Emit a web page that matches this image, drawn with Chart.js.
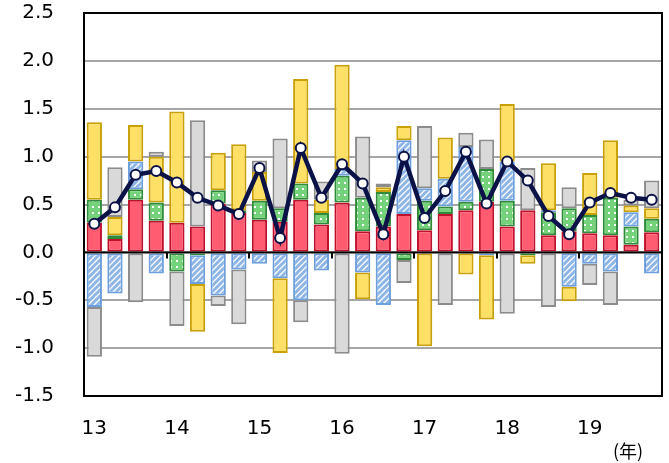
<!DOCTYPE html>
<html>
<head>
<meta charset="utf-8">
<script src="https://cdn.jsdelivr.net/npm/chart.js@4.4.1/dist/chart.umd.min.js"></script>
<style>
  html, body { margin: 0; padding: 0; background: #fff; }
</style>
</head>
<body>
<canvas id="myChart" width="669" height="463"></canvas>
<script>
// quarters 2013Q1 .. 2019Q4
const years = ['13', '14', '15', '16', '17', '18', '19'];
const quarters = ['Q1', 'Q2', 'Q3', 'Q4'];

const redVals    = [0.31, 0.14, 0.55, 0.33, 0.31, 0.27, 0.51, 0.41, 0.34, 0.32, 0.55, 0.29, 0.52, 0.22, 0.27, 0.40, 0.23, 0.40, 0.44, 0.53, 0.27, 0.44, 0.18, 0.22, 0.20, 0.18, 0.08, 0.21];
const greenVals  = [0.24, 0.04, 0.11, 0.19, -0.20, -0.03, 0.14, 0.03, 0.20, 0.14, 0.17, 0.12, 0.28, 0.35, 0.36, -0.08, 0.31, 0.08, 0.09, 0.34, 0.27, -0.03, 0.24, 0.24, 0.19, 0.39, 0.19, 0.14];
const blueVals   = [-0.57, -0.43, 0.29, -0.22, 0, -0.30, -0.45, -0.18, -0.12, -0.27, -0.50, -0.19, 0.07, -0.21, -0.55, 0.77, 0.13, 0.29, 0.57, -0.03, 0.41, 0, 0.02, -0.36, -0.12, -0.20, 0.15, -0.22];
const yellowVals = [0.81, 0.19, 0.38, 0.48, 1.16, -0.50, 0.39, 0.69, 0.30, -0.78, 1.09, 0.14, 1.09, -0.28, 0.05, 0.15, -0.98, 0.43, -0.23, -0.67, 0.60, -0.09, 0.49, -0.15, 0.44, 0.60, 0.07, 0.11];
const grayVals   = [-0.52, 0.52, -0.52, 0.05, -0.57, 1.11, -0.11, -0.57, 0.12, 0.73, -0.23, 0.19, -1.06, 0.64, 0.04, -0.24, 0.65, -0.55, 0.15, 0.31, -0.64, 0.44, -0.57, 0.22, -0.22, -0.35, 0.06, 0.29];
const totalVals  = [0.30, 0.47, 0.81, 0.85, 0.73, 0.57, 0.49, 0.40, 0.88, 0.15, 1.09, 0.57, 0.92, 0.72, 0.19, 1.00, 0.36, 0.64, 1.05, 0.51, 0.95, 0.75, 0.38, 0.19, 0.52, 0.62, 0.57, 0.55];

const yTicks = [-1.5, -1.0, -0.5, 0, 0.5, 1.0, 1.5, 2.0, 2.5];

const labels = [];
years.forEach(function(y) {
  quarters.forEach(function(q) { labels.push(y + q); });
});

var ctx = document.getElementById('myChart').getContext('2d');

// fill patterns
function dotPattern() {
  var c = document.createElement('canvas');
  c.width = 6; c.height = 6;
  var p = c.getContext('2d');
  p.fillStyle = '#74D27A';
  p.fillRect(0, 0, 6, 6);
  p.fillStyle = '#fff';
  p.fillRect(2, 2, 2, 2);
  return ctx.createPattern(c, 'repeat');
}

function stripePattern() {
  var c = document.createElement('canvas');
  c.width = 6; c.height = 6;
  var p = c.getContext('2d');
  p.fillStyle = '#fff';
  p.fillRect(0, 0, 6, 6);
  p.strokeStyle = '#8DB5E6';
  p.lineWidth = 3;
  p.beginPath();
  p.moveTo(-1, 7); p.lineTo(7, -1);
  p.moveTo(-4, 4); p.lineTo(4, -4);
  p.moveTo(2, 10); p.lineTo(10, 2);
  p.stroke();
  return ctx.createPattern(c, 'repeat');
}

var framePlugin = {
  id: 'frame',
  afterDatasetsDraw: function(chart) {
    var a = chart.chartArea;
    var c = chart.ctx;
    var xs = chart.scales.x;
    var y0 = chart.scales.y.getPixelForValue(0);
    c.save();
    c.strokeStyle = '#000';
    c.lineWidth = 2;
    // zero line
    c.beginPath();
    c.moveTo(a.left, y0); c.lineTo(a.right, y0);
    c.stroke();
    // year tick marks
    for (var i = 4; i < labels.length; i += 4) {
      var x = Math.round((xs.getPixelForValue(i - 1) + xs.getPixelForValue(i)) / 2);
      c.beginPath();
      c.moveTo(x, y0); c.lineTo(x, y0 + 6);
      c.stroke();
    }
    // plot frame
    c.strokeRect(a.left, a.top, a.right - a.left, a.bottom - a.top);
    // unit label
    c.fillStyle = '#000';
    c.font = '18px "Noto Sans CJK JP"';
    c.textAlign = 'center';
    c.textBaseline = 'middle';
    c.fillText('(年)', 628, 451);
    c.restore();
  }
};

function barSet(data, bg, border) {
  return {
    type: 'bar',
    data: data,
    backgroundColor: bg,
    borderColor: border,
    borderWidth: 2,
    borderSkipped: false,
    stack: 'parts',
    order: 2
  };
}

var chart = new Chart(ctx, {
  data: {
    labels: labels,
    datasets: [
      {
        type: 'line',
        data: totalVals,
        borderColor: '#0B1247',
        borderWidth: 4.5,
        pointRadius: 5,
        pointBackgroundColor: '#fff',
        pointBorderColor: '#0B1247',
        pointBorderWidth: 2,
        tension: 0,
        stack: 'total',
        order: 0
      },
      barSet(redVals, '#FF5B71', '#C0102C'),
      barSet(greenVals, dotPattern(), '#2F8A3A'),
      barSet(blueVals, stripePattern(), '#6E9FDD'),
      barSet(yellowVals, '#FFE066', '#C9A008'),
      barSet(grayVals, '#D9D9D9', '#8C8C8C')
    ]
  },
  options: {
    responsive: false,
    animation: false,
    layout: { padding: { left: 0, top: 0, right: 7, bottom: 0 } },
    datasets: { bar: { categoryPercentage: 1, barPercentage: 0.74 } },
    plugins: { legend: { display: false }, tooltip: { enabled: false } },
    scales: {
      x: {
        stacked: true,
        grid: { display: false, drawTicks: false },
        border: { display: false },
        afterFit: function(s) { s.height = 67; s.paddingLeft = 0; s.paddingRight = 0; },
        ticks: {
          autoSkip: false,
          maxRotation: 0,
          padding: 21,
          color: '#000',
          font: { family: 'DejaVu Sans', size: 20 },
          callback: function(v, i) { return i % 4 === 0 ? years[i / 4] : ''; }
        }
      },
      y: {
        stacked: true,
        min: -1.5,
        max: 2.5,
        afterFit: function(s) { s.width = 84; s.paddingTop = 13; s.paddingBottom = 0; },
        afterBuildTicks: function(s) { s.ticks = yTicks.map(function(v) { return { value: v }; }); },
        grid: { color: '#A6A6A6', lineWidth: 2, drawTicks: false },
        border: { display: false },
        ticks: {
          padding: 30,
          color: '#000',
          font: { family: 'DejaVu Sans', size: 20 },
          callback: function(v) { return v.toFixed(1); }
        }
      }
    }
  },
  plugins: [framePlugin]
});
</script>
</body>
</html>
